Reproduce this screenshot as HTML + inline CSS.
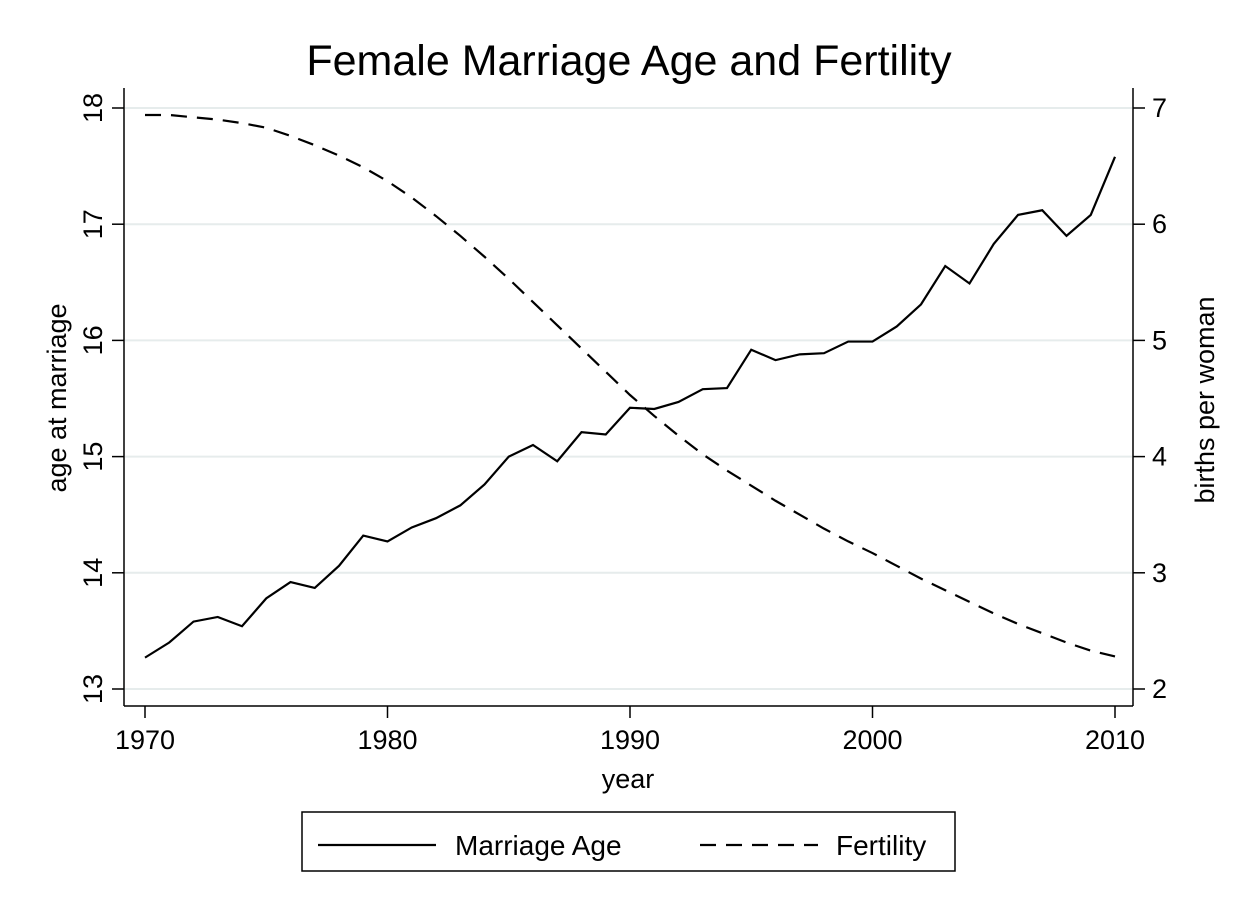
<!DOCTYPE html>
<html><head><meta charset="utf-8"><style>
body{margin:0;background:#fff;}
svg{display:block;font-family:"Liberation Sans",sans-serif;}
</style></head><body>
<svg id="chart" width="1260" height="916" viewBox="0 0 1260 916">
<rect width="1260" height="916" fill="#fff"/>
<text x="629" y="75" font-size="43" text-anchor="middle">Female Marriage Age and Fertility</text>
<g id="grid"></g>
<g id="axes"></g>
<g id="series"></g>
<text x="628" y="788" font-size="27" text-anchor="middle">year</text>
<text transform="translate(66,398) rotate(-90)" font-size="27" text-anchor="middle">age at marriage</text>
<text transform="translate(1214,400) rotate(-90)" font-size="27" text-anchor="middle">births per woman</text>
<g>
<rect x="302" y="812" width="653" height="59" fill="#fff" stroke="#000" stroke-width="1.5"/>
<line x1="318" y1="845" x2="436" y2="845" stroke="#000" stroke-width="2.2"/>
<text x="455" y="855" font-size="28">Marriage Age</text>
<line x1="700" y1="845" x2="818" y2="845" stroke="#000" stroke-width="2.2" stroke-dasharray="16,10"/>
<text x="836" y="855" font-size="28">Fertility</text>
</g>
</svg>
<script>
const years=[1970,1971,1972,1973,1974,1975,1976,1977,1978,1979,1980,1981,1982,1983,1984,1985,1986,1987,1988,1989,1990,1991,1992,1993,1994,1995,1996,1997,1998,1999,2000,2001,2002,2003,2004,2005,2006,2007,2008,2009,2010];
const marriageAge=[13.27,13.40,13.58,13.62,13.54,13.78,13.92,13.87,14.06,14.32,14.27,14.39,14.47,14.58,14.76,15.00,15.10,14.96,15.21,15.19,15.42,15.41,15.47,15.58,15.59,15.92,15.83,15.88,15.89,15.99,15.99,16.12,16.31,16.64,16.49,16.83,17.08,17.12,16.90,17.08,17.58];
const fertility=[6.94,6.94,6.92,6.90,6.87,6.83,6.76,6.68,6.59,6.49,6.37,6.23,6.07,5.90,5.72,5.53,5.33,5.13,4.93,4.73,4.53,4.35,4.18,4.02,3.88,3.75,3.62,3.50,3.38,3.27,3.17,3.06,2.95,2.85,2.75,2.65,2.56,2.48,2.40,2.33,2.28];
const xTicks=[1970,1980,1990,2000,2010];
const leftTicks=[13,14,15,16,17,18];
const rightTicks=[2,3,4,5,6,7];
const NS="http://www.w3.org/2000/svg";
const X=v=>145+(v-1970)*(970/40);
const YL=v=>689-(v-13)*(581/5);
const YR=v=>689-(v-2)*(581/5);
function mk(tag,attrs,parent){const e=document.createElementNS(NS,tag);for(const k in attrs)e.setAttribute(k,attrs[k]);parent.appendChild(e);return e;}
const grid=document.getElementById('grid'),axes=document.getElementById('axes'),series=document.getElementById('series');
leftTicks.forEach(t=>{
 const g=mk('line',{x1:125,x2:1132,y1:YL(t),y2:YL(t),stroke:'#e6ecec','stroke-width':2},grid);
 
 
 const tk=mk('line',{x1:112,x2:124,y1:YL(t),y2:YL(t),stroke:'#000','stroke-width':1.5},axes);
 
 
 const tx=mk('text',{transform:`translate(102,${YL(t)}) rotate(-90)`,'font-size':27,'text-anchor':'middle'},axes);
 tx.textContent=t;
 
 
});
rightTicks.forEach(t=>{
 const tk=mk('line',{x1:1133,x2:1145,y1:YR(t),y2:YR(t),stroke:'#000','stroke-width':1.5},axes);
 
 
 const tx=mk('text',{x:1152,y:YR(t)+9,'font-size':27},axes);
 tx.textContent=t;
 
 
});
xTicks.forEach(t=>{
 const tk=mk('line',{x1:X(t),x2:X(t),y1:706,y2:718,stroke:'#000','stroke-width':1.5},axes);
 
 
 const tx=mk('text',{x:X(t),y:749,'font-size':27,'text-anchor':'middle'},axes);
 tx.textContent=t;
 
 
});
const la=mk('line',{x1:124,x2:124,y1:88,y2:706,stroke:'#000','stroke-width':1.5},axes);


const ra=mk('line',{x1:1133,x2:1133,y1:88,y2:706,stroke:'#000','stroke-width':1.5},axes);


const ba=mk('line',{x1:124,x2:1133,y1:706,y2:706,stroke:'#000','stroke-width':1.5},axes);


const p1=mk('path',{d:years.map((y,i)=>(i?'L':'M')+X(y)+','+YL(marriageAge[i])).join(''),fill:'none',stroke:'#000','stroke-width':2.2},series);


const p2=mk('path',{d:years.map((y,i)=>(i?'L':'M')+X(y)+','+YR(fertility[i])).join(''),fill:'none',stroke:'#000','stroke-width':2.2,'stroke-dasharray':'16,10'},series);


</script>
</body></html>
